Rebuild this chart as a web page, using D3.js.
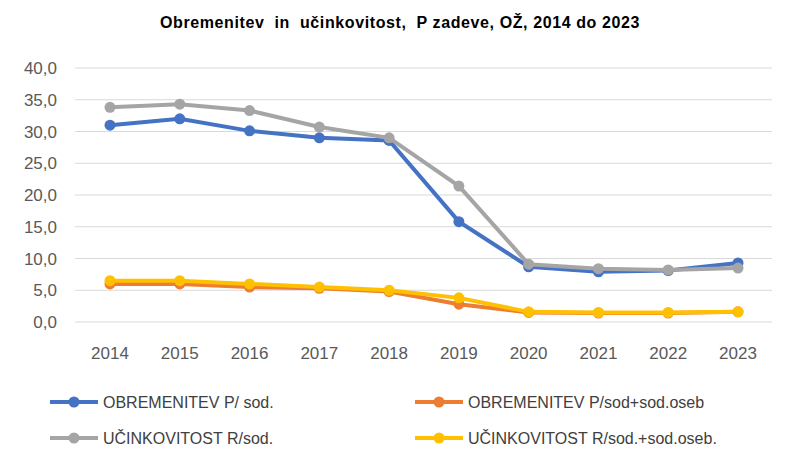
<!DOCTYPE html>
<html><head><meta charset="utf-8">
<script src="https://cdn.jsdelivr.net/npm/d3@7"></script>
<style>body{margin:0;background:#fff;font-family:"Liberation Sans",Arial,sans-serif}</style>
</head><body><svg id="c" width="800" height="465"></svg>
<script>
const years=["2014","2015","2016","2017","2018","2019","2020","2021","2022","2023"];
const obrSod=[31.0,32.0,30.1,29.0,28.6,15.8,8.7,7.9,8.1,9.3];
const obrSodOseb=[6.0,6.0,5.5,5.3,4.8,2.8,1.5,1.4,1.4,1.6];
const ucSod=[33.8,34.3,33.3,30.7,29.0,21.4,9.1,8.4,8.2,8.5];
const ucSodOseb=[6.5,6.5,6.0,5.5,5.0,3.8,1.6,1.5,1.5,1.6];
const yTicks=[0,5,10,15,20,25,30,35,40];
const series=[
 {name:"OBREMENITEV P/ sod.",v:obrSod,c:"#4472C4"},
 {name:"OBREMENITEV P/sod+sod.oseb",v:obrSodOseb,c:"#ED7D31"},
 {name:"UČINKOVITOST R/sod.",v:ucSod,c:"#A5A5A5"},
 {name:"UČINKOVITOST R/sod.+sod.oseb.",v:ucSodOseb,c:"#FFC000"}];
const drawOrder=[0,2,1,3];
const svg=d3.select("#c");
const x=d3.scalePoint().domain(years).range([110,738]);
const y=d3.scaleLinear().domain([0,40]).range([322,68]);
svg.append("text").attr("x",400).attr("y",28).attr("text-anchor","middle").attr("font-weight","bold").attr("font-size",16).attr("letter-spacing",0.6).style("white-space","pre").text("Obremenitev  in  učinkovitost,  P zadeve, OŽ, 2014 do 2023");
const fmt=v=>v.toFixed(1).replace(".",",");
yTicks.forEach(t=>{
 svg.append("line").attr("x1",75).attr("x2",772).attr("y1",y(t)).attr("y2",y(t)).attr("stroke","#d9d9d9");
 svg.append("text").attr("x",57).attr("y",y(t)+6).attr("text-anchor","end").attr("font-size",17).attr("fill","#595959").text(fmt(t));
});
years.forEach(yr=>svg.append("text").attr("x",x(yr)).attr("y",359).attr("text-anchor","middle").attr("font-size",17).attr("fill","#595959").text(yr));
const line=d3.line().x((d,i)=>x(years[i])).y(d=>y(d));
drawOrder.forEach(k=>{const s=series[k];
 svg.append("path").attr("d",line(s.v)).attr("fill","none").attr("stroke",s.c).attr("stroke-width",4);
 svg.selectAll(null).data(s.v).enter().append("circle").attr("cx",(d,i)=>x(years[i])).attr("cy",d=>y(d)).attr("r",5.5).attr("fill",s.c);
});
const lg=[[50,402],[415,402],[50,438],[415,438]];
series.forEach((s,i)=>{const [lx,ly]=lg[i];
 svg.append("line").attr("x1",lx).attr("x2",lx+48).attr("y1",ly).attr("y2",ly).attr("stroke",s.c).attr("stroke-width",4);
 svg.append("circle").attr("cx",lx+24).attr("cy",ly).attr("r",5.5).attr("fill",s.c);
 svg.append("text").attr("x",lx+53).attr("y",ly+6).attr("font-size",16).attr("fill","#404040").text(s.name);
});
</script></body></html>
